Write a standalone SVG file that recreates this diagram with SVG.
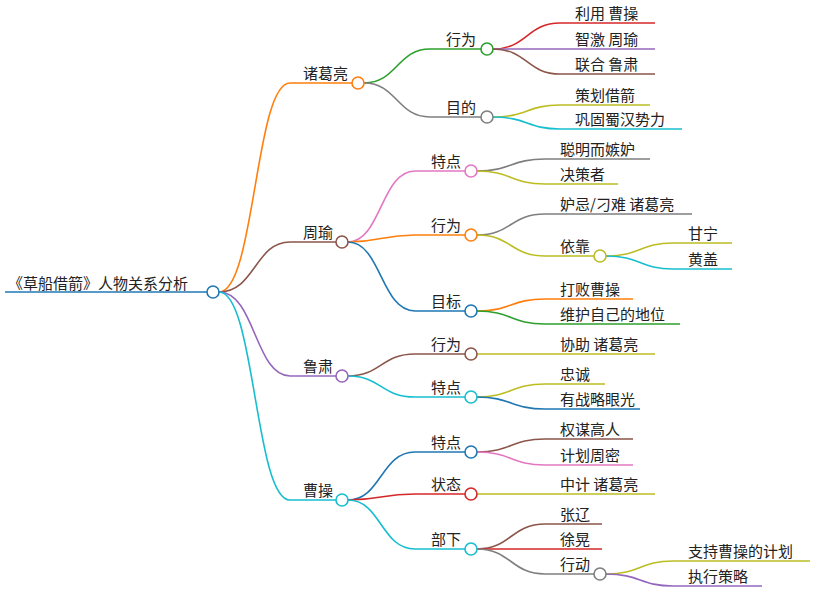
<svg xmlns="http://www.w3.org/2000/svg" width="816" height="606" viewBox="0 0 816 606">
<style>
text{font-family:"Noto Sans CJK SC","Liberation Sans",sans-serif;font-size:15px;fill:#222}
path{fill:none;stroke-width:1.6}
circle{fill:#fff;stroke-width:1.6}
.bl{stroke:#1f77b4}.or{stroke:#ff7f0e}.gr{stroke:#2ca02c}.rd{stroke:#d62728}.pu{stroke:#9467bd}.br{stroke:#8c564b}.pk{stroke:#e377c2}.gy{stroke:#7f7f7f}.ol{stroke:#bcbd22}.cy{stroke:#17becf}
</style>
<rect width="816" height="606" fill="#fff"/>
<g id="connectors">
<path class="bl" d="M5 292H207" stroke-width="4"/>
<path class="or" d="M219 292C255 292 255 83 290 83H352"/>
<path class="br" d="M219 292C255 292 255 242 290 242H336"/>
<path class="pu" d="M219 292C255 292 255 376 290 376H336"/>
<path class="cy" d="M219 292C255 292 255 500 290 500H336"/>
<path class="gr" d="M364 83C397 83 397 49 430 49H481"/>
<path class="gy" d="M364 83C397 83 397 117 430 117H481"/>
<path class="rd" d="M493 49C527 49 527 23 560 23H655"/>
<path class="pu" d="M493 49H655"/>
<path class="br" d="M493 49C527 49 527 74 560 74H655"/>
<path class="ol" d="M493 117C527 117 527 105 560 105H650"/>
<path class="cy" d="M493 117C527 117 527 129 560 129H682"/>
<path class="pk" d="M348 242C381 242 381 171 415 171H465"/>
<path class="or" d="M348 242C381 242 381 235 415 235H465"/>
<path class="bl" d="M348 242C381 242 381 311 415 311H465"/>
<path class="gy" d="M477 171C511 171 511 159 545 159H650"/>
<path class="ol" d="M477 171C511 171 511 184 545 184H618"/>
<path class="gy" d="M477 235C511 235 511 214 545 214H692"/>
<path class="ol" d="M477 235C511 235 511 256 545 256H594"/>
<path class="ol" d="M606 256C640 256 640 243 673 243H732"/>
<path class="cy" d="M606 256C640 256 640 269 673 269H732"/>
<path class="or" d="M477 311C511 311 511 299 545 299H633"/>
<path class="gr" d="M477 311C511 311 511 324 545 324H680"/>
<path class="br" d="M348 376C381 376 381 354 415 354H465"/>
<path class="cy" d="M348 376C381 376 381 397 415 397H465"/>
<path class="ol" d="M477 354H655"/>
<path class="ol" d="M477 397C511 397 511 384 545 384H605"/>
<path class="bl" d="M477 397C511 397 511 409 545 409H640"/>
<path class="bl" d="M348 500C381 500 381 452 415 452H465"/>
<path class="rd" d="M348 500C381 500 381 494 415 494H465"/>
<path class="cy" d="M348 500C381 500 381 549 415 549H465"/>
<path class="br" d="M477 452C511 452 511 439 545 439H633"/>
<path class="pk" d="M477 452C511 452 511 465 545 465H633"/>
<path class="ol" d="M477 494H655"/>
<path class="br" d="M477 549C511 549 511 524 545 524H602"/>
<path class="rd" d="M477 549H602"/>
<path class="gy" d="M477 549C511 549 511 574 545 574H594"/>
<path class="ol" d="M606 574C640 574 640 561 673 561H810"/>
<path class="pu" d="M606 574C640 574 640 586 673 586H762"/>
</g>
<g id="root"><circle class="bl" cx="213" cy="292" r="6"/><text x="8" y="289">《草船借箭》人物关系分析</text></g>
<g id="zgl"><circle class="or" cx="358" cy="83" r="6"/><text x="303" y="79">诸葛亮</text></g>
<g id="zgl-xw"><circle class="gr" cx="487" cy="49" r="6"/><text x="446" y="45">行为</text></g>
<g id="zgl-md"><circle class="gy" cx="487" cy="117" r="6"/><text x="446" y="113">目的</text></g>
<g id="l1"><text x="575" y="19">利用 曹操</text></g>
<g id="l2"><text x="575" y="45">智激 周瑜</text></g>
<g id="l3"><text x="575" y="70">联合 鲁肃</text></g>
<g id="l4"><text x="575" y="101">策划借箭</text></g>
<g id="l5"><text x="575" y="125">巩固蜀汉势力</text></g>
<g id="zy"><circle class="br" cx="342" cy="242" r="6"/><text x="303" y="238">周瑜</text></g>
<g id="zy-td"><circle class="pk" cx="471" cy="171" r="6"/><text x="431" y="167">特点</text></g>
<g id="zy-xw"><circle class="or" cx="471" cy="235" r="6"/><text x="431" y="231">行为</text></g>
<g id="zy-mb"><circle class="bl" cx="471" cy="311" r="6"/><text x="431" y="307">目标</text></g>
<g id="l6"><text x="560" y="155">聪明而嫉妒</text></g>
<g id="l7"><text x="560" y="180">决策者</text></g>
<g id="l8"><text x="560" y="210">妒忌/刁难 诸葛亮</text></g>
<g id="yk"><circle class="ol" cx="600" cy="256" r="6"/><text x="560" y="252">依靠</text></g>
<g id="l9"><text x="688" y="239">甘宁</text></g>
<g id="l10"><text x="688" y="265">黄盖</text></g>
<g id="l11"><text x="560" y="295">打败曹操</text></g>
<g id="l12"><text x="560" y="320">维护自己的地位</text></g>
<g id="ls"><circle class="pu" cx="342" cy="376" r="6"/><text x="303" y="372">鲁肃</text></g>
<g id="ls-xw"><circle class="br" cx="471" cy="354" r="6"/><text x="431" y="350">行为</text></g>
<g id="ls-td"><circle class="cy" cx="471" cy="397" r="6"/><text x="431" y="393">特点</text></g>
<g id="l13"><text x="560" y="350">协助 诸葛亮</text></g>
<g id="l14"><text x="560" y="380">忠诚</text></g>
<g id="l15"><text x="560" y="405">有战略眼光</text></g>
<g id="cc"><circle class="cy" cx="342" cy="500" r="6"/><text x="303" y="496">曹操</text></g>
<g id="cc-td"><circle class="bl" cx="471" cy="452" r="6"/><text x="431" y="448">特点</text></g>
<g id="cc-zt"><circle class="rd" cx="471" cy="494" r="6"/><text x="431" y="490">状态</text></g>
<g id="cc-bx"><circle class="cy" cx="471" cy="549" r="6"/><text x="431" y="545">部下</text></g>
<g id="l16"><text x="560" y="435">权谋高人</text></g>
<g id="l17"><text x="560" y="461">计划周密</text></g>
<g id="l18"><text x="560" y="490">中计 诸葛亮</text></g>
<g id="l19"><text x="560" y="520">张辽</text></g>
<g id="l20"><text x="560" y="545">徐晃</text></g>
<g id="xd"><circle class="gy" cx="600" cy="574" r="6"/><text x="560" y="570">行动</text></g>
<g id="l21"><text x="688" y="557">支持曹操的计划</text></g>
<g id="l22"><text x="688" y="582">执行策略</text></g>
</svg>
